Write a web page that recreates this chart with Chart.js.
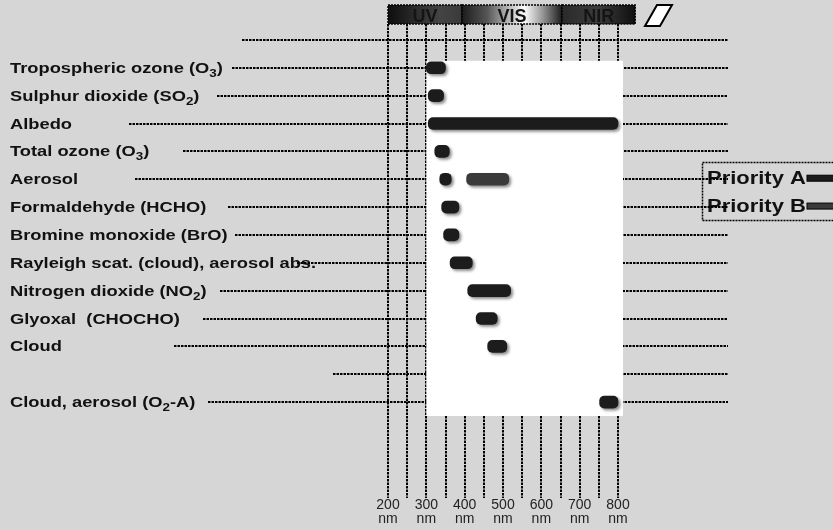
<!DOCTYPE html>
<html lang="en">
<head>
    <meta charset="UTF-8">
    <title>Spectral coverage of products</title>
    <script src="https://cdn.jsdelivr.net/npm/chart.js"></script>
    <style>
        body {
            margin: 0;
            padding: 0;
            background-color: #d6d6d6;
        }

        #wrap {
            width: 833px;
            height: 530px;
            position: relative;
        }
    </style>
</head>
<body>
    <div id="wrap">
        <canvas id="myChart"></canvas>
    </div>

    <script>
        // rows, top to bottom ("_3" = subscript 3)
        const rowLabels = [
            ' ',
            'Tropospheric ozone (O_3)',
            'Sulphur dioxide (SO_2)',
            'Albedo',
            'Total ozone (O_3)',
            'Aerosol',
            'Formaldehyde (HCHO)',
            'Bromine monoxide (BrO)',
            'Rayleigh scat. (cloud), aerosol abs.',
            'Nitrogen dioxide (NO_2)',
            'Glyoxal  (CHOCHO)',
            'Cloud',
            '  ',
            'Cloud, aerosol (O_2-A)'
        ];

        // wavelength ranges in nm
        const priorityA = [
            null, [300, 350], [305, 345], [305, 800], [322, 360], [335, 365],
            [340, 385], [345, 385], [362, 420], [408, 520], [430, 485],
            [460, 510], null, [752, 800]
        ];
        const priorityB = [
            null, null, null, null, null, [405, 515],
            null, null, null, null, null,
            null, null, null
        ];

        const tickValues = [200, 300, 400, 500, 600, 700, 800];
        const gridValues = [200, 250, 300, 350, 400, 450, 500, 550, 600, 650, 700, 750, 800];

        const bandNames = ['UV', 'VIS', 'NIR'];
        const bandEdges = [200, 393, 654, 845];

        // where each dotted leader line starts (px)
        const leaderStart = [242, 232, 217, 129, 183, 135, 228, 235, 297, 220, 203, 174, 333, 208];

        const FONT = '"Liberation Sans", Arial, Helvetica, sans-serif';
        const STRETCH = 1.22;

        function wideText(ctx, text, x, y, size, weight) {
            ctx.save();
            ctx.translate(x, y);
            ctx.scale(STRETCH, 1);
            ctx.font = weight + ' ' + size + 'px ' + FONT;
            ctx.fillText(text, 0, 0);
            const w = ctx.measureText(text).width * STRETCH;
            ctx.restore();
            return w;
        }

        function richLabel(ctx, label, x, y) {
            const parts = label.split(/_(\d)/);
            let cx = x;
            parts.forEach((p, i) => {
                if (!p) return;
                if (i % 2 === 1) {
                    cx += wideText(ctx, p, cx, y + 4, 11, 'bold');
                } else {
                    cx += wideText(ctx, p, cx, y, 15, 'bold');
                }
            });
        }

        function dotted(ctx, x1, y1, x2, y2, w, dash) {
            ctx.save();
            ctx.strokeStyle = '#000';
            ctx.lineWidth = w;
            ctx.setLineDash(dash);
            ctx.beginPath();
            ctx.moveTo(x1, y1);
            ctx.lineTo(x2, y2);
            ctx.stroke();
            ctx.restore();
        }

        const backdrop = {
            id: 'backdrop',
            beforeDraw(chart) {
                const ctx = chart.ctx;
                const xs = chart.scales.x;
                const ys = chart.scales.y;
                const area = chart.chartArea;

                ctx.save();
                ctx.fillStyle = '#d6d6d6';
                ctx.fillRect(0, 0, chart.width, chart.height);

                // vertical grid lines
                gridValues.forEach(v => {
                    const px = Math.round(xs.getPixelForValue(v));
                    dotted(ctx, px, 24, px, 498, 2, [2.5, 1]);
                });

                // row labels
                ctx.fillStyle = '#111';
                ctx.textBaseline = 'alphabetic';
                rowLabels.forEach((lab, i) => {
                    const py = ys.getPixelForValue(i);
                    if (lab.trim()) richLabel(ctx, lab, 10, py + 5);
                });

                // legend text
                const legendRows = [5, 6];
                const legendNames = ['Priority A', 'Priority B'];
                const legendColors = [chart.data.datasets[0].backgroundColor, chart.data.datasets[1].backgroundColor];
                legendRows.forEach((r, i) => {
                    const py = ys.getPixelForValue(r);
                    ctx.fillStyle = '#111';
                    wideText(ctx, legendNames[i], 707, py + 5, 18, 'bold');
                    ctx.fillStyle = legendColors[i];
                    ctx.fillRect(807, py - 4, 30, 6);
                    ctx.strokeStyle = '#000';
                    ctx.lineWidth = 1;
                    ctx.strokeRect(807, py - 4, 30, 6);
                });
                ctx.save();
                ctx.strokeStyle = '#000';
                ctx.lineWidth = 1.5;
                ctx.setLineDash([2, 1]);
                ctx.strokeRect(702.5, 162.5, 140, 58);
                ctx.restore();

                // horizontal leader lines
                rowLabels.forEach((lab, i) => {
                    const py = Math.round(ys.getPixelForValue(i));
                    dotted(ctx, leaderStart[i], py, 728, py, 2, [2.5, 1]);
                });

                // white plotting field
                const fx1 = xs.getPixelForValue(300);
                const fx2 = xs.getPixelForValue(813);
                const fy1 = ys.getPixelForValue(1) - 7;
                ctx.fillStyle = '#ffffff';
                ctx.fillRect(fx1, fy1, fx2 - fx1, area.bottom - fy1);

                // spectral band strip
                const by1 = 5, by2 = 24;
                bandNames.forEach((name, i) => {
                    const x1 = xs.getPixelForValue(bandEdges[i]);
                    const x2 = xs.getPixelForValue(bandEdges[i + 1]);
                    const g = ctx.createLinearGradient(x1, 0, x2, 0);
                    if (name === 'UV') {
                        g.addColorStop(0, '#0e0e0e');
                        g.addColorStop(0.7, '#444');
                        g.addColorStop(1, '#3a3a3a');
                    } else if (name === 'VIS') {
                        g.addColorStop(0, '#1c1c1c');
                        g.addColorStop(0.25, '#555');
                        g.addColorStop(0.62, '#ffffff');
                        g.addColorStop(0.8, '#9a9a9a');
                        g.addColorStop(1, '#1c1c1c');
                    } else {
                        g.addColorStop(0, '#2a2a2a');
                        g.addColorStop(0.5, '#3c3c3c');
                        g.addColorStop(1, '#0e0e0e');
                    }
                    ctx.fillStyle = g;
                    ctx.fillRect(x1, by1, x2 - x1, by2 - by1);
                    ctx.save();
                    ctx.strokeStyle = '#000';
                    ctx.lineWidth = 1.5;
                    ctx.setLineDash([2, 1]);
                    ctx.strokeRect(x1, by1, x2 - x1, by2 - by1);
                    ctx.restore();
                    ctx.fillStyle = '#141414';
                    ctx.font = 'bold 18px ' + FONT;
                    ctx.textAlign = 'center';
                    ctx.fillText(name, (x1 + x2) / 2, by2 - 2);
                    ctx.textAlign = 'left';
                });

                // little parallelogram
                ctx.beginPath();
                ctx.moveTo(657, 5);
                ctx.lineTo(672, 5);
                ctx.lineTo(660, 26);
                ctx.lineTo(645, 26);
                ctx.closePath();
                ctx.fillStyle = '#fff';
                ctx.fill();
                ctx.strokeStyle = '#000';
                ctx.lineWidth = 2;
                ctx.stroke();

                // wavelength tick labels
                ctx.fillStyle = '#222';
                ctx.font = '14px ' + FONT;
                ctx.textAlign = 'center';
                tickValues.forEach(v => {
                    const px = xs.getPixelForValue(v);
                    ctx.fillText(String(v), px, 509);
                    ctx.fillText('nm', px, 523);
                });
                ctx.restore();
            },
            beforeDatasetsDraw(chart) {
                const ctx = chart.ctx;
                ctx.save();
                ctx.shadowColor = 'rgba(0,0,0,0.45)';
                ctx.shadowBlur = 3;
                ctx.shadowOffsetX = 2;
                ctx.shadowOffsetY = 2;
            },
            afterDatasetsDraw(chart) {
                chart.ctx.restore();
            }
        };

        const ctx = document.getElementById('myChart').getContext('2d');

        const myChart = new Chart(ctx, {
            type: 'bar',
            data: {
                labels: rowLabels,
                datasets: [{
                    label: 'Priority A',
                    data: priorityA,
                    backgroundColor: '#1c1c1c',
                    grouped: false,
                    barThickness: 12,
                    borderRadius: 5,
                    borderSkipped: false,
                    clip: false
                },
                {
                    label: 'Priority B',
                    data: priorityB,
                    backgroundColor: '#3a3a3a',
                    grouped: false,
                    barThickness: 12,
                    borderRadius: 5,
                    borderSkipped: false,
                    clip: false
                }]
            },
            options: {
                indexAxis: 'y',
                responsive: true,
                maintainAspectRatio: false,
                animation: false,
                layout: {
                    padding: { left: 388, right: 215, top: 26, bottom: 114 }
                },
                scales: {
                    x: { type: 'linear', min: 200, max: 800, display: false },
                    y: { display: false }
                },
                plugins: {
                    legend: { display: false },
                    tooltip: { enabled: false }
                }
            },
            plugins: [backdrop]
        });
    </script>
</body>
</html>
